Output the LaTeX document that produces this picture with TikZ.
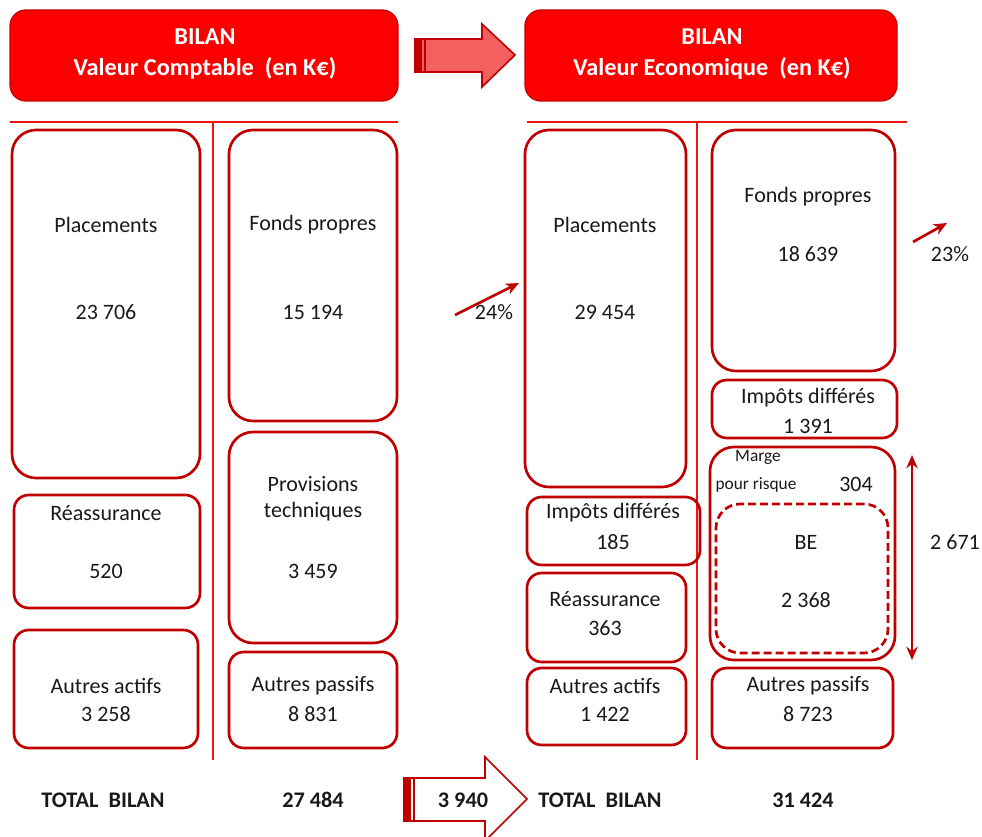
\documentclass[tikz,border=0pt]{standalone}
\usepackage{fontspec}
\setmainfont{Carlito}
\usepackage{tikz}
\usetikzlibrary{arrows.meta, fit, positioning}

\definecolor{headred}{RGB}{252,0,0}
\definecolor{headedge}{RGB}{200,0,0}
\definecolor{boxred}{RGB}{192,0,0}
\definecolor{linered}{RGB}{240,20,20}
\definecolor{arrowfill}{RGB}{242,96,96}
\definecolor{textcol}{RGB}{25,25,25}

\begin{document}
\begin{tikzpicture}[
    x=0.75pt, y=-0.75pt,
    box/.style={draw=boxred, line width=2pt, rounded corners=18pt, inner sep=0pt},
    smallbox/.style={box, rounded corners=11pt},
    head/.style={fill=headred, draw=headedge, line width=1pt, rounded corners=12pt, inner sep=0pt},
    headtext/.style={font=\fontsize{18.2}{22}\selectfont\bfseries, text=white},
    lbl/.style={font=\fontsize{16.5}{20}\selectfont, text=textcol},
    small/.style={font=\fontsize{13}{16}\selectfont, text=textcol},
    tot/.style={font=\fontsize{16.7}{20}\selectfont\bfseries, text=textcol},
    sepline/.style={draw=linered, line width=1pt},
    growth/.style={-{Stealth[length=3.5mm, width=3mm]}, draw=boxred, line width=2pt},
  ]
  \useasboundingbox (0,0) rectangle (982,837);

  % Headers
  \node[head, fit={(10,10) (398,101)}] (headL) {};
  \node[head, fit={(525,10) (897,101)}] (headR) {};
  \node[headtext] (bilanL) at (205,37) {BILAN};
  \node[headtext] (titleL) at (205,68) {Valeur Comptable\ \ (en K€)};
  \node[headtext] (bilanR) at (712,37) {BILAN};
  \node[headtext] (titleR) at (712,68) {Valeur Economique\ \ (en K€)};

  % Arrow between headers
  \draw[fill=arrowfill, draw=boxred, line width=1.2pt, line join=miter]
    (415,39) -- (482,39) -- (482,24) -- (515,55) -- (482,87) -- (482,72) -- (415,72) -- cycle;
  \fill[boxred] (415,39) rectangle (422,72);
  \draw[boxred, line width=0.8pt] (425,39) -- (425,72);

  % Separators
  \draw[sepline] (10,122) -- (398,122);
  \draw[sepline] (213,122) -- (213,760);
  \draw[sepline] (527,122) -- (907,122);
  \draw[sepline] (697,122) -- (697,760);

  % Valeur comptable - actif
  \node[box, fit={(12,130) (200,478)}] (placL) {};
  \node[smallbox, fit={(14,495) (200,608)}] (reasL) {};
  \node[smallbox, fit={(14,630) (198,748)}] (autaL) {};
  \node[lbl] (placLt) at (106,225) {Placements};
  \node[lbl] (placLv) at (106,312) {23 706};
  \node[lbl] (reasLt) at (106,513) {Réassurance};
  \node[lbl] (reasLv) at (106,571) {520};
  \node[lbl] (autaLt) at (106,686) {Autres actifs};
  \node[lbl] (autaLv) at (106,714) {3 258};

  % Valeur comptable - passif
  \node[box, fit={(229,130) (397,421)}] (fpL) {};
  \node[box, fit={(229,432) (397,643)}] (provL) {};
  \node[smallbox, fit={(229,652) (397,748)}] (autpL) {};
  \node[lbl] (fpLt) at (313,225) {Fonds propres};
  \node[lbl] (fpLv) at (313,312) {15 194};
  \node[lbl] (provLt) at (313,484) {Provisions};
  \node[lbl] (provLs) at (313,512) {techniques};
  \node[lbl] (provLv) at (313,571) {3 459};
  \node[lbl] (autpLt) at (313,686) {Autres passifs};
  \node[lbl] (autpLv) at (313,714) {8 831};

  % Valeur economique - actif
  \node[box, fit={(525,130) (686,487)}] (placR) {};
  \node[smallbox, fit={(527,497) (700,565)}] (impR) {};
  \node[smallbox, fit={(527,573) (686,662)}] (reasR) {};
  \node[smallbox, fit={(527,668) (686,745)}] (autaR) {};
  \node[lbl] (placRt) at (605,225) {Placements};
  \node[lbl] (placRv) at (605,312) {29 454};
  \node[lbl] (impRt) at (613,513) {Impôts différés};
  \node[lbl] (impRv) at (613,542) {185};
  \node[lbl] (reasRt) at (605,599) {Réassurance};
  \node[lbl] (reasRv) at (605,628) {363};
  \node[lbl] (autaRt) at (605,686) {Autres actifs};
  \node[lbl] (autaRv) at (605,714) {1 422};

  % Valeur economique - passif
  \node[box, fit={(712,130) (895,371)}] (fpR) {};
  \node[smallbox, fit={(712,380) (897,438)}] (idR) {};
  \node[box, fit={(710,447) (895,660)}] (tpR) {};
  \node[box, dash pattern=on 6pt off 3pt, fit={(716,504) (888,653)}] (beR) {};
  \node[smallbox, fit={(712,668) (893,748)}] (autpR) {};
  \node[lbl] (fpRt) at (808,197) {Fonds propres};
  \node[lbl] (fpRv) at (808,254) {18 639};
  \node[lbl] (idRt) at (808,398) {Impôts différés};
  \node[lbl] (idRv) at (808,426) {1 391};
  \node[small] (mrgt) at (758,457) {Marge};
  \node[small] (mrgs) at (756,485) {pour risque};
  \node[lbl] (mrgv) at (856,484) {304};
  \node[lbl] (beRt) at (806,542) {BE};
  \node[lbl] (beRv) at (806,600) {2 368};
  \node[lbl] (autpRt) at (808,686) {Autres passifs};
  \node[lbl] (autpRv) at (808,714) {8 723};

  % Variations
  \coordinate (tpTop) at (912,455);
  \coordinate (tpBot) at (912,660);
  \draw[{Stealth[length=3.5mm, width=3mm]}-{Stealth[length=3.5mm, width=3mm]}, draw=boxred, line width=2pt] (tpTop) -- (tpBot);
  \node[lbl] (tpv) at (955,542) {2 671};
  \coordinate (g24a) at (455,315);
  \coordinate (g24b) at (519,283);
  \draw[growth] (g24a) -- (g24b);
  \node[lbl] (g24) at (494,312) {24\%};
  \coordinate (g23a) at (913,242);
  \coordinate (g23b) at (947,223);
  \draw[growth] (g23a) -- (g23b);
  \node[lbl] (g23) at (950,254) {23\%};

  % Totaux
  \draw[fill=white, draw=boxred, line width=1.2pt, line join=miter]
    (404,778) -- (485,778) -- (485,757) -- (527,799) -- (485,841) -- (485,821) -- (404,821) -- cycle;
  \fill[boxred] (404,778) rectangle (411,821);
  \draw[boxred, line width=0.8pt] (414,778) -- (414,821);
  \node[tot] (totLt) at (103,800) {TOTAL\ \ BILAN};
  \node[tot] (totLv) at (313,800) {27 484};
  \node[tot] (ecart) at (463,800) {3 940};
  \node[tot] (totRt) at (600,800) {TOTAL\ \ BILAN};
  \node[tot] (totRv) at (803,800) {31 424};

\end{tikzpicture}
\end{document}
